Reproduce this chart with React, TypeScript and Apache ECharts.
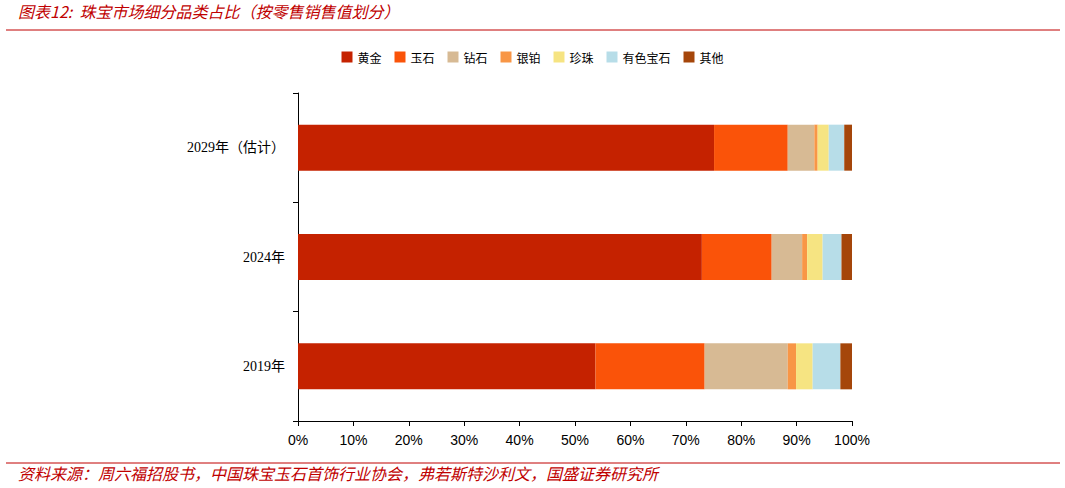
import React, { useEffect, useRef } from "react";
import * as echarts from "echarts";

const categories = ["2019年", "2024年", "2029年（估计）"];
const seriesNames = ["黄金", "玉石", "钻石", "银铂", "珍珠", "有色宝石", "其他"];
const colors = ["#C52200", "#FA5309", "#D7BA94", "#F89646", "#F6E482", "#B7DDE8", "#A5460A"];
// order: 2019, 2024, 2029
const gold = [53.7, 72.9, 75.1];
const jade = [19.7, 12.6, 13.3];
const diamond = [15.0, 5.5, 4.8];
const platinum = [1.5, 0.9, 0.6];
const pearl = [3.0, 2.8, 2.0];
const coloredGem = [5.0, 3.4, 2.8];
const other = [2.1, 1.9, 1.4];
const xTicks = [0, 10, 20, 30, 40, 50, 60, 70, 80, 90, 100];

const titleText = "图表12:  珠宝市场细分品类占比（按零售销售值划分）";
const sourceText = "资料来源：周六福招股书，中国珠宝玉石首饰行业协会，弗若斯特沙利文，国盛证券研究所";

export default function App() {
  const ref = useRef<HTMLDivElement>(null);
  useEffect(() => {
    document.body.style.margin = "0";
    const chart = echarts.init(ref.current!, null, { renderer: "svg" });
    const all = [gold, jade, diamond, platinum, pearl, coloredGem, other];
    chart.setOption({
      animation: false,
      backgroundColor: "#ffffff",
      legend: {
        top: 46,
        left: "center",
        itemWidth: 11,
        itemHeight: 11,
        itemGap: 13,
        icon: "rect",
        textStyle: { fontSize: 12, color: "#000", fontFamily: "Noto Sans CJK SC" },
        data: seriesNames,
      },
      grid: { left: 298, right: 213, top: 93, bottom: 67 },
      xAxis: {
        type: "value",
        min: 0,
        max: 100,
        interval: 10,
        axisLine: { show: true, lineStyle: { color: "#000", width: 1 } },
        axisTick: { show: true, length: 5, lineStyle: { color: "#000" } },
        splitLine: { show: false },
        axisLabel: {
          formatter: (v: number) => (xTicks.includes(v) ? v + "%" : ""),
          fontSize: 14,
          color: "#000",
          margin: 12,
          fontFamily: "Liberation Sans",
        },
      },
      yAxis: {
        type: "category",
        data: categories,
        axisLine: { show: true, lineStyle: { color: "#000", width: 1 } },
        axisTick: { show: true, length: 5, lineStyle: { color: "#000" } },
        axisLabel: {
          fontSize: 14,
          color: "#000",
          margin: 13,
          fontFamily: "Liberation Serif, Noto Sans CJK SC",
        },
      },
      series: seriesNames.map((name, i) => ({
        name,
        type: "bar",
        stack: "total",
        barWidth: 46,
        data: all[i],
        itemStyle: { color: colors[i] },
      })),
      graphic: [
        {
          type: "text",
          left: 18,
          top: 3,
          style: {
            text: titleText,
            fill: "#C00000",
            font: "italic 16px 'Noto Sans CJK SC'",
          },
        },
        {
          type: "line",
          shape: { x1: 6, y1: 30, x2: 1060, y2: 30 },
          style: { stroke: "#C00000", lineWidth: 1 },
        },
        {
          type: "line",
          shape: { x1: 6, y1: 463, x2: 1060, y2: 463 },
          style: { stroke: "#C00000", lineWidth: 1 },
        },
        {
          type: "text",
          left: 18,
          top: 465,
          style: {
            text: sourceText,
            fill: "#C00000",
            font: "italic 16px 'Noto Sans CJK SC'",
          },
        },
      ],
    });
    return () => chart.dispose();
  }, []);
  return <div ref={ref} style={{ width: 1065, height: 488 }} />;
}
